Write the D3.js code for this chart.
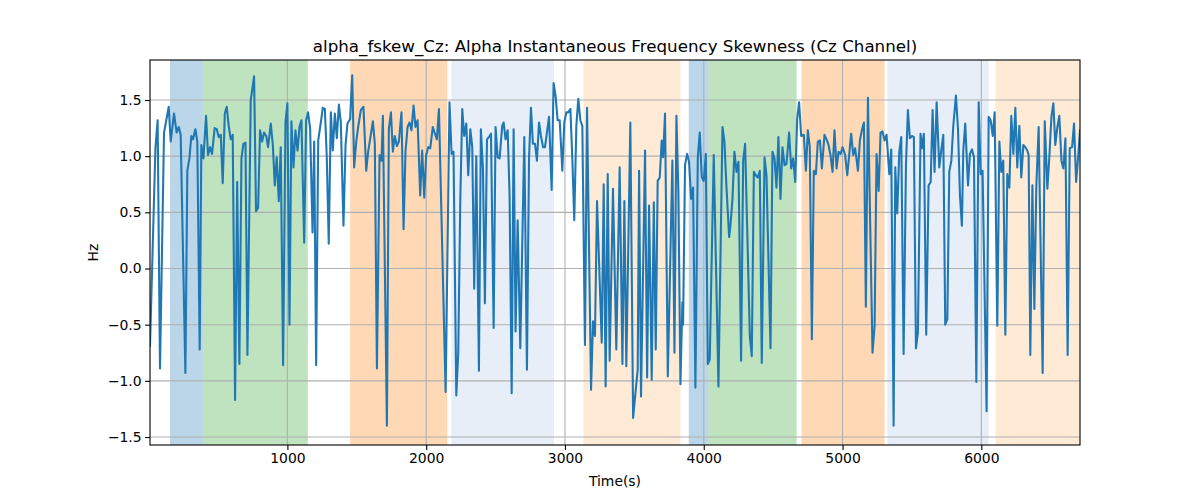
<!DOCTYPE html>
<html>
<head>
<meta charset="utf-8">
<script src="https://cdn.jsdelivr.net/npm/d3@7"></script>
<style>
  html, body { margin: 0; padding: 0; background: #fff; }
  svg { display: block; font-family: "DejaVu Sans", sans-serif; }
</style>
</head>
<body>
<svg id="chart" width="1200" height="500"></svg>
<script>
const titleText = "alpha_fskew_Cz: Alpha Instantaneous Frequency Skewness (Cz Channel)";
const xLabel = "Time(s)";
const yLabel = "Hz";

const times = [
10,49,65,82,111,145,159,183,202,217,231,265,279,294,308,320,337,351,368,380,395,414,428,443,457,476,491,505,520,534,549,563,577,592,606,623,638,654,669,683,698,712,736,760,774,789,803,818,832,847,
861,880,895,909,923,938,952,969,986,1000,1015,1029,1044,1058,1073,1087,1101,1121,1135,1149,1164,1181,1193,1207,1222,1241,1255,1270,1284,1298,1313,1327,1342,1356,1371,1385,1404,1419,1433,1452,1467,1481,1496,1510,1529,1548,1568,1582,1596,1616,1630,1645,1664,1678,
1688,1717,1731,1746,1760,1774,1789,1803,1822,1837,1851,1866,1880,1894,1909,1923,1938,1957,1971,1986,2000,2015,2029,2048,2063,2077,2092,2140,2168,2183,2197,2217,2231,2246,2260,2274,2289,2303,2318,2332,2346,2361,2380,2394,2409,2423,2438,2452,2467,2486,2500,2515,
2529,2548,2558,2572,2587,2601,2616,2630,2644,2659,2678,2707,2726,2741,2755,2769,2784,2798,2813,2827,2842,2856,2870,2885,2904,2918,2933,2947,2962,2981,2995,3010,3024,3039,3053,3067,3082,3096,3111,3125,3144,3159,3188,3202,3216,3231,3265,3279,3293,3308,3322,3346,
3370,3394,3414,3428,3442,3471,3491,3510,3524,3534,3548,3577,3592,3606,3625,3640,3654,3668,3683,3697,3707,3721,3741,3774,3789,3803,3817,3832,3846,3851,3865,3880,3894,3909,3923,3940,3957,3971,3986,4000,4015,4029,4043,4072,4106,4135,4149,4163,4183,
4192,4207,4221,4236,4250,4269,4284,4298,4332,4346,4361,4375,4389,4404,4418,4438,4452,4481,4495,4510,4524,4538,4553,4567,4582,4596,4615,4630,4644,4659,4673,4687,4702,4721,4736,4750,4764,4779,4793,4808,4822,4837,4851,4870,4885,4899,4913,4928,4942,4957,4971,4986,5000,5019,
5034,5048,5062,5077,5091,5111,5125,5139,5154,5168,5183,5216,5231,5245,5260,5274,5288,5303,5317,5337,5351,5368,5380,5394,5409,5423,5440,5457,5471,5485,5500,5514,5529,5543,5562,5572,5586,5603,5620,5635,5649,5663,5678,5697,5711,5726,5740,5755,5769,5784,5798,5817,5832,5846,5860,
5870,5884,5904,5918,5933,5947,5964,5981,5995,6009,6038,6053,6067,6082,6096,6115,6130,6144,6158,6173,6187,6202,6216,6231,6245,6259,6274,6288,6303,6317,6331,6341,6353,6368,6382,6396,6413,6442,6457,6476,6490,6505,6519,6533,6548,6562,6577,6591,6606,6622,6637,6654,6668,6683,6697,6711
];

const values = [
-0.69,1.07,1.32,-0.89,1.21,1.44,1.13,1.38,1.21,1.26,1.19,-0.93,0.87,0.98,1.18,1.15,1.24,1.13,-0.72,1.10,0.98,1.36,1.01,1.08,1.02,1.25,1.24,1.17,1.19,0.76,1.38,1.44,1.27,1.15,1.19,-1.17,0.77,-0.85,0.98,1.11,1.12,-0.77,1.50,1.71,0.51,0.54,1.23,1.13,1.21,1.18,
1.08,1.29,1.10,0.74,0.99,0.60,1.08,-0.86,1.30,1.47,-0.50,1.31,0.90,1.23,1.05,1.26,1.32,0.23,1.32,1.39,1.24,0.32,1.13,-0.86,1.14,1.30,1.43,1.42,0.98,0.22,1.39,1.05,1.38,1.16,1.46,1.30,0.38,1.10,1.29,1.33,1.72,0.90,1.13,1.26,1.41,1.44,0.87,1.04,1.15,1.31,1.11,-0.89,1.01,0.96,
1.36,-1.40,1.24,1.39,1.04,1.18,1.09,1.13,1.39,0.35,1.04,1.26,1.30,1.23,1.45,1.26,1.32,0.65,1.05,0.63,1.01,1.08,1.07,1.26,1.20,1.15,1.42,-1.10,1.48,1.02,1.04,-1.13,-0.75,0.62,1.42,1.18,1.29,0.83,1.24,1.08,-0.18,1.00,-0.91,1.24,0.89,-0.31,1.15,1.17,1.20,-0.53,1.26,0.99,
0.98,1.27,1.30,1.15,1.23,0.65,-1.11,1.24,-0.56,0.43,-0.71,1.17,-0.90,0.98,1.43,1.11,1.11,0.96,1.30,1.18,1.08,1.08,1.21,1.35,0.70,1.65,1.53,1.32,1.32,0.87,1.30,1.39,1.39,1.42,0.98,0.43,1.27,1.51,1.32,1.27,-0.68,1.43,-1.08,-0.47,-0.60,0.60,-0.66,0.75,-1.05,0.84,-0.82,0.71,
-0.72,0.90,-0.85,0.60,-0.87,1.30,-1.33,-1.08,-0.90,0.87,-1.14,1.05,-0.97,0.56,-0.99,0.59,-0.72,0.78,0.81,1.14,0.99,1.38,-0.96,0.96,-0.75,1.36,0.68,-1.03,-0.30,-0.50,0.92,1.02,0.95,0.62,0.72,-1.06,0.98,1.21,0.81,0.78,1.02,-0.85,-0.81,1.01,-1.05,1.26,1.13,0.74,0.28,
0.38,0.62,1.04,0.86,0.95,-0.82,0.96,1.11,-0.60,-0.78,0.86,0.83,0.81,0.87,-0.84,0.99,0.83,-0.71,1.04,0.98,0.72,1.17,0.62,1.08,0.92,0.93,1.21,0.89,0.98,0.77,1.33,1.48,1.18,1.19,0.87,1.23,1.08,-0.63,0.87,0.84,1.13,1.14,0.89,1.19,1.15,1.10,1.01,0.86,1.23,0.89,1.04,1.02,1.08,1.01,
0.83,1.01,1.20,1.01,1.07,0.87,1.14,1.23,1.30,-0.34,1.52,-0.75,-0.51,1.02,0.69,1.21,1.22,1.14,1.19,0.84,1.06,-1.40,0.90,0.49,1.04,1.17,-0.76,0.92,1.41,1.16,1.18,1.17,-0.71,-0.57,1.20,1.07,1.20,-0.59,0.74,0.77,1.41,0.86,1.48,0.90,1.05,1.19,-0.50,-0.45,0.86,0.96,1.27,1.54,1.24,0.65,0.38,
1.05,1.29,0.74,1.02,1.06,0.99,-1.01,1.48,0.84,0.87,-1.27,1.35,1.32,1.18,1.39,-0.51,1.13,0.86,0.96,-0.59,0.84,0.72,1.36,1.02,1.43,0.90,1.27,0.81,1.10,1.08,1.05,1.01,-0.77,0.74,-0.36,0.72,1.26,-0.93,1.31,0.71,0.99,1.35,1.47,1.10,1.26,1.36,0.96,0.89,1.16,-0.77,1.07,1.08,1.29,0.77,0.98,1.23
];

// shaded intervals (seconds) and their category
const bandStarts = [154, 390, 1452, 2181, 3133, 3892, 4034, 4705, 5323, 6103];
const bandEnds   = [390, 1147, 2152, 2921, 3832, 4034, 4669, 5303, 6053, 6711];
const bandKinds  = ["blue", "green", "orange", "lightblue", "lightorange", "blue", "green", "orange", "lightblue", "lightorange"];

const xTicks = [1000, 2000, 3000, 4000, 5000, 6000];
const yTicks = [-1.5, -1.0, -0.5, 0.0, 0.5, 1.0, 1.5];

const kindColor = {
  blue: "#1f77b4", green: "#2ca02c", orange: "#ff7f0e",
  lightblue: "#aec7e8", lightorange: "#ffbb78"
};

const svg = d3.select("#chart");
const mLeft = 150, mRight = 1080, mTop = 60, mBottom = 445;

const x = d3.scaleLinear().domain([times[0], times[times.length - 1]]).range([mLeft, mRight]);
const y = d3.scaleLinear().domain([-1.571, 1.856]).range([mBottom, mTop]);

const n = Math.min(times.length, values.length);
const pts = d3.range(n).map(i => [times[i], values[i]]);

svg.append("defs").append("clipPath").attr("id", "clip")
  .append("rect").attr("x", mLeft).attr("y", mTop).attr("width", mRight - mLeft).attr("height", mBottom - mTop);

const plot = svg.append("g").attr("clip-path", "url(#clip)");

// bands
plot.selectAll("rect.band").data(bandStarts.map((s, i) => ({s, e: bandEnds[i], k: bandKinds[i]})))
  .enter().append("rect").attr("class", "band")
  .attr("x", d => x(d.s)).attr("width", d => x(d.e) - x(d.s))
  .attr("y", mTop).attr("height", mBottom - mTop)
  .attr("fill", d => kindColor[d.k]).attr("fill-opacity", 0.3);

// grid
const grid = svg.append("g");
xTicks.forEach(t => grid.append("line")
  .attr("x1", x(t)).attr("x2", x(t)).attr("y1", mTop).attr("y2", mBottom)
  .attr("stroke", "#b0b0b0").attr("stroke-width", 1.1));
yTicks.forEach(t => grid.append("line")
  .attr("x1", mLeft).attr("x2", mRight).attr("y1", y(t)).attr("y2", y(t))
  .attr("stroke", "#b0b0b0").attr("stroke-width", 1.1));

// line
const linePlot = svg.append("g").attr("clip-path", "url(#clip)");
linePlot.append("path").datum(pts)
  .attr("fill", "none").attr("stroke", "#1f77b4").attr("stroke-width", 2.08)
  .attr("stroke-linejoin", "round").attr("stroke-linecap", "square")
  .attr("d", d3.line().x(d => x(d[0])).y(d => y(d[1])));

// axes
const fmtY = v => (v < 0 ? "\u2212" : "") + Math.abs(v).toFixed(1);
const xAxis = d3.axisBottom(x).tickValues(xTicks).tickFormat(d3.format("d")).tickSize(4.9).tickPadding(3.5);
const yAxis = d3.axisLeft(y).tickValues(yTicks).tickFormat(fmtY).tickSize(4.9).tickPadding(3.5);

const gx = svg.append("g").attr("transform", `translate(0,${mBottom})`).call(xAxis);
const gy = svg.append("g").attr("transform", `translate(${mLeft},0)`).call(yAxis);
[gx, gy].forEach(g => {
  g.select(".domain").remove();
  g.selectAll(".tick line").attr("stroke", "#000").attr("stroke-width", 1.1);
  g.selectAll(".tick text").attr("fill", "#000").style("font-size", "13.9px").style("font-family", "DejaVu Sans");
});

// frame
svg.append("rect").attr("x", mLeft).attr("y", mTop).attr("width", mRight - mLeft).attr("height", mBottom - mTop)
  .attr("fill", "none").attr("stroke", "#000").attr("stroke-width", 1.1);

// texts
svg.append("text").attr("x", (mLeft + mRight) / 2).attr("y", 52).attr("text-anchor", "middle")
  .style("font-size", "16.7px").attr("fill", "#000").text(titleText);
svg.append("text").attr("x", (mLeft + mRight) / 2).attr("y", 486).attr("text-anchor", "middle")
  .style("font-size", "13.9px").attr("fill", "#000").text(xLabel);
svg.append("text").attr("transform", `translate(98,${(mTop + mBottom) / 2}) rotate(-90)`).attr("text-anchor", "middle")
  .style("font-size", "13.9px").attr("fill", "#000").text(yLabel);
</script>
</body>
</html>
